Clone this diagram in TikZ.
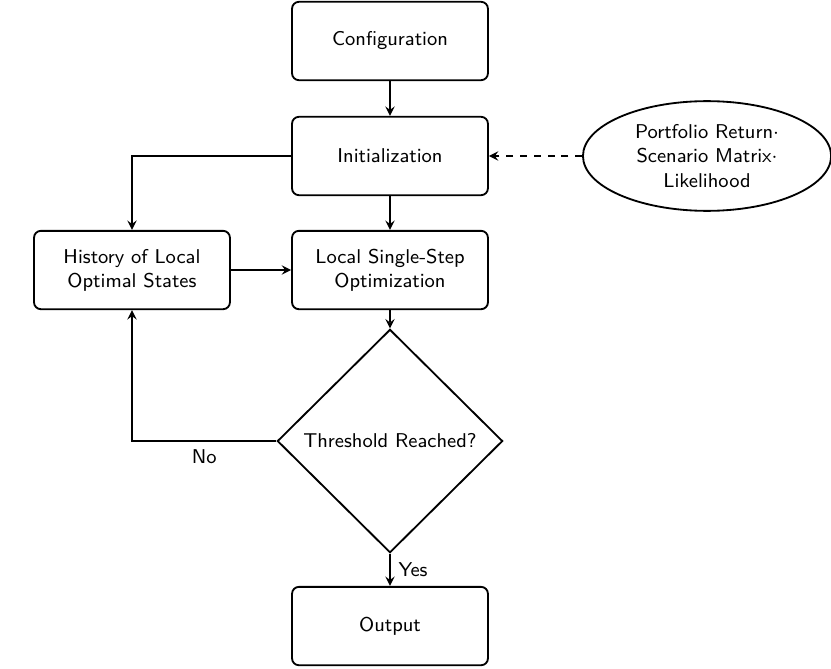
\documentclass[tikz,border=0pt]{standalone}
\usepackage{tikz}
\usetikzlibrary{shapes.geometric, arrows}
\renewcommand{\familydefault}{\sfdefault}
\tikzstyle{process} = [rectangle, rounded corners=3pt, minimum width=3cm, minimum height=1.2cm, text centered, align=center, draw=black, thick]
\tikzstyle{decision} = [diamond, minimum width=3.45cm, minimum height=3.42cm, text centered, draw=black, thick, inner sep=0pt]
\tikzstyle{data} = [ellipse, minimum width=3.8cm, minimum height=1.68cm, text centered, align=center, draw=black, thick, inner sep=0pt]
\tikzstyle{arrow} = [thick,->,>=stealth]

\begin{document}
\begin{tikzpicture}[font=\fontsize{8.7}{10.5}\selectfont]
\useasboundingbox (-5.972,-6.095) rectangle (6.753,4.135);
\node (config) [process] at (0, 3.507) {Configuration};
\node (init) [process] at (0, 1.746) {Initialization};
\node (local) [process] at (0, 0) {Local Single-Step\\Optimization};
\node (hist) [process] at (-3.951, 0) {History of Local\\Optimal States};
\node (thresh) [decision] at (0, -2.619) {Threshold Reached?};
\node (out) [process] at (0, -5.452) {Output};
\node (inputs) [data] at (4.855, 1.746) {Portfolio Return$\cdot$\\Scenario Matrix$\cdot$\\Likelihood};
\draw [arrow] (config) -- (init);
\draw [arrow] (init) -- (local);
\draw [arrow] (init.west) -| (hist.north);
\draw [arrow] (hist) -- (local);
\draw [arrow] (local) -- (thresh);
\draw [arrow] (thresh.west) -| node [below, pos=0.25] {No} (hist.south);
\draw [arrow] (thresh.south) -- node [right] {Yes} (out.north);
\draw [arrow, dashed] (inputs.west) -- (init.east);
\end{tikzpicture}
\end{document}
